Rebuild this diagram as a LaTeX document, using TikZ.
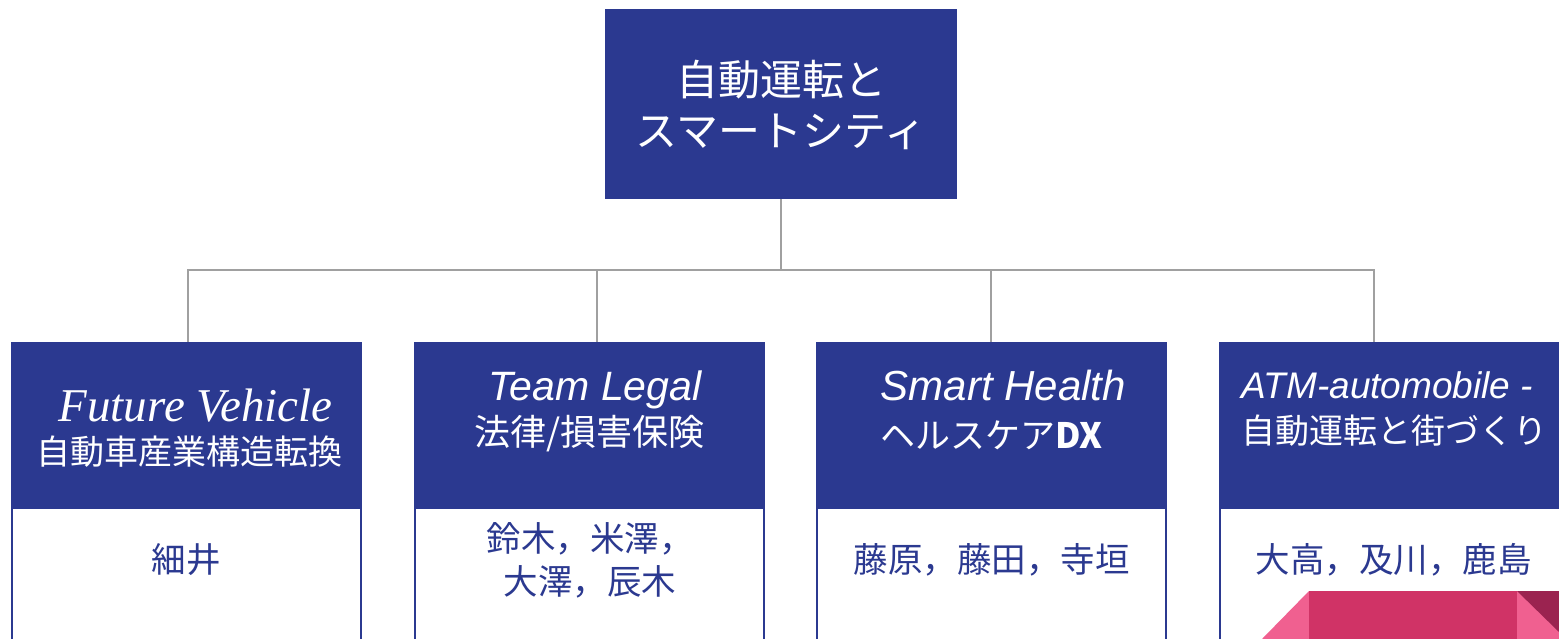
\documentclass[tikz,border=0pt]{standalone}
\usepackage{fontspec}
\setmainfont{Liberation Sans}
\newfontfamily\jp{Noto Sans CJK JP}
\newfontfamily\serifit{Liberation Serif}
\definecolor{navy}{HTML}{2B3990}
\definecolor{linegray}{HTML}{A0A0A0}
\definecolor{pinkmain}{HTML}{D03366}
\definecolor{pinklight}{HTML}{F06090}
\definecolor{pinkdark}{HTML}{9B2350}
\tikzset{
  topbox/.style={fill=navy, minimum width=352pt, minimum height=190pt, inner sep=0pt},
  hdrbox/.style={fill=navy, minimum width=351pt, minimum height=166pt, inner sep=0pt},
  bodybox/.style={fill=white, draw=navy, line width=2pt, minimum width=349pt, minimum height=200pt, inner sep=0pt},
  conn/.style={draw=linegray, line width=1.6pt},
  whitetxt/.style={text=white, align=center, inner sep=0pt},
  latin/.style={whitetxt, anchor=base, font=\itshape\fontsize{41}{48}\selectfont},
  jphdr/.style={whitetxt, font=\jp\fontsize{34}{40}\selectfont},
  nametxt/.style={text=navy, align=center, inner sep=0pt, font=\jp\fontsize{34.5}{43}\selectfont}
}
\begin{document}
\begin{tikzpicture}[x=1pt,y=-1pt]
\useasboundingbox (0,0) rectangle (1559,639);
\clip (0,0) rectangle (1559,639);
\fill[white] (0,0) rectangle (1559,639);

% top box
\node[topbox] (top) at (781,104) {};
\node[whitetxt, font=\jp\fontsize{42}{51}\selectfont] (toptext) at (781,105) {自動運転と\\スマートシティ};

% bodies
\node[bodybox] (b1) at (186.5,608) {};
\node[bodybox] (b2) at (589,608) {};
\node[bodybox] (b3) at (991,608) {};
\node[bodybox] (b4) at (1394,608) {};

% headers
\node[hdrbox] (h1) at (186.5,425) {};
\node[hdrbox] (h2) at (589,425) {};
\node[hdrbox] (h3) at (991,425) {};
\node[hdrbox] (h4) at (1394,425) {};

% connectors
\coordinate (bus) at (781,270);
\draw[conn] (top.south) -- (bus);
\draw[conn] (bus) -| ([xshift=1.5pt]h1.north);
\draw[conn] (bus) -| ([xshift=8pt]h2.north);
\draw[conn] (bus) -| (h3.north);
\draw[conn] (bus) -| ([xshift=-20pt]h4.north);

% header texts
\node[latin, font=\serifit\itshape\fontsize{47}{52}\selectfont] (t1a) at (195.5,421) {Future Vehicle};
\node[jphdr] (t1b) at (189.5,452) {自動車産業構造転換};
\node[latin] (t2a) at (595,400) {Team Legal};
\node[jphdr, font=\jp\fontsize{36}{40}\selectfont] (t2b) at (589.5,434) {法律/損害保険};
\node[latin, font=\itshape\fontsize{42}{48}\selectfont] (t3a) at (1003.5,400) {Smart Health};
\node[jphdr, font=\jp\fontsize{35}{40}\selectfont] (t3b) at (991.5,435) {ヘルスケア\textbf{DX}};
\node[latin, font=\itshape\fontsize{37}{44}\selectfont] (t4a) at (1387.5,398) {ATM-automobile -};
\node[jphdr] (t4b) at (1394,431) {自動運転と街づくり};

% names
\node[nametxt] (n1) at (186,560) {細井};
\node[nametxt] (n2) at (590,560) {鈴木，米澤，\\大澤，辰木};
\node[nametxt] (n3) at (991.5,560) {藤原，藤田，寺垣};
\node[nametxt] (n4) at (1393.5,560) {大高，及川，鹿島};

% ribbon decoration
\fill[pinklight] (1262,639) -- (1309,591) -- (1309,639) -- cycle;
\fill[pinkmain] (1309,591) rectangle (1517,639);
\fill[pinklight] (1517,591) rectangle (1559,639);
\fill[pinkdark] (1517,591) -- (1559,591) -- (1559,632) -- cycle;
\end{tikzpicture}
\end{document}
